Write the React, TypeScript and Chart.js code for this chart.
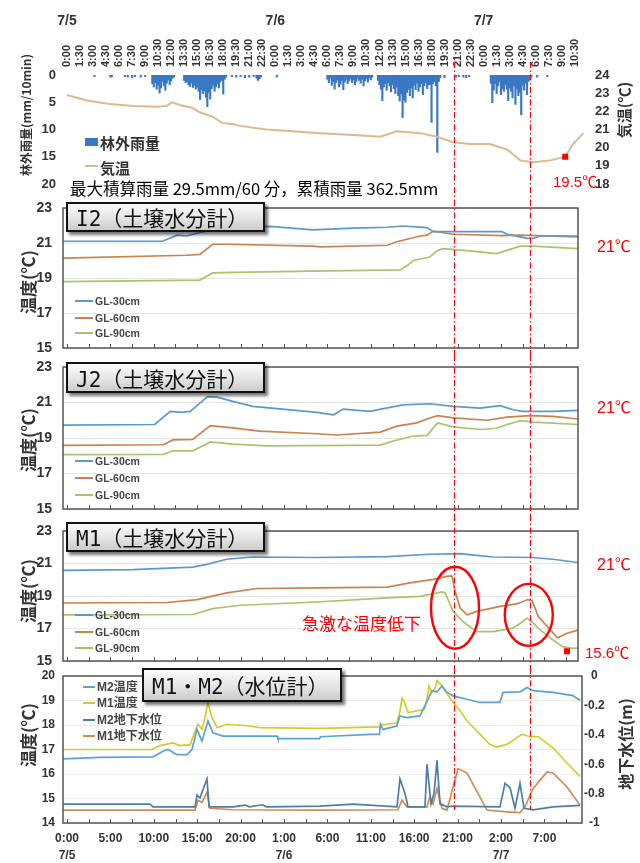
import React, { useEffect, useRef } from 'react';
import { Chart, registerables } from 'chart.js';

Chart.register(...registerables);

/* ---------------- data (x = hours counted from 7/5 0:00) ---------------- */

const DATE_LABELS = ['7/5', '7/6', '7/7'];

const TOP_TIME_LABELS = [
  '0:00', '1:30', '3:00', '4:30', '6:00', '7:30', '9:00', '10:30', '12:00', '13:30', '15:00', '16:30', '18:00', '19:30', '21:00', '22:30',
  '0:00', '1:30', '3:00', '4:30', '6:00', '7:30', '9:00', '10:30', '12:00', '13:30', '15:00', '16:30', '18:00', '19:30', '21:00', '22:30',
  '0:00', '1:30', '3:00', '4:30', '6:00', '7:30', '9:00', '10:30',
];

const BOTTOM_TIME_LABELS = ['0:00', '5:00', '10:00', '15:00', '20:00', '1:00', '6:00', '11:00', '16:00', '21:00', '2:00', '7:00'];

// 10-minute rainfall outside the forest (mm): [first hour of the spell, values...]
const RAIN_SPELLS: [number, number[]][] = [
  [9.83, [1.6, 2.2, 1.4, 2.6, 1.9, 3.3, 2.4, 1.2, 2.0, 2.8, 1.5, 0.9, 1.8, 1.1, 0.6, 0.4]],
  [13.5, [1.0, 1.4, 1.2, 1.8, 2.1, 1.5, 2.3, 1.9, 2.6, 2.2, 3.0, 4.5, 2.7, 3.4, 2.9, 4.1, 5.8, 3.2, 4.4, 2.5, 1.9, 3.0, 2.2, 1.6, 2.4, 1.3, 1.0, 3.5, 0.8, 0.4]],
  [30.0, [0.8, 1.4, 0.6, 1.9, 1.2, 2.6, 1.4, 0.9, 2.2, 1.7, 1.0, 2.7, 1.3, 0.8, 1.6, 1.1, 0.7, 1.4, 0.9, 1.8, 1.2, 0.6, 1.0, 1.5, 0.8, 2.0, 1.1, 0.7, 1.3, 0.5, 0.9, 0.4]],
  [35.83, [1.0, 1.8, 2.6, 4.7, 2.2, 1.6, 2.8, 1.4, 2.0, 3.1, 1.8, 2.5, 3.4, 2.2, 3.8, 4.8, 3.5, 7.8, 4.6, 5.0, 3.2, 2.6, 3.8, 2.4, 4.2, 1.9, 2.7, 1.5, 3.0, 2.2, 1.6, 3.6, 2.0, 1.4, 2.5, 1.8, 1.8, 8.7, 1.6, 1.2, 2.0, 14.2, 1.2, 0.5]],
  [48.83, [1.5, 5.1, 2.8, 1.6, 3.4, 2.0, 1.2, 3.6, 2.5, 3.0, 1.8, 2.6, 4.7, 2.4, 3.0, 4.2, 2.0, 5.4, 2.6, 3.8, 3.2, 7.3, 1.9, 2.8, 1.5, 3.6, 1.2, 0.8, 0.4]],
];

// isolated light showers: [hour, mm]
const RAIN_SCATTER: [number, number][] = [
  [3.17, 0.3], [5.0, 0.4], [5.17, 0.3], [6.67, 0.3], [7.0, 0.4], [7.5, 0.5], [7.83, 0.3], [8.5, 0.4], [9.0, 0.3],
  [19.0, 0.3], [19.5, 0.4], [20.0, 0.3], [20.5, 0.5], [21.0, 0.4], [21.5, 0.3], [21.83, 0.6], [22.0, 1.0], [22.17, 0.7], [22.33, 0.4],
  [24.17, 0.4], [43.5, 0.5], [44.83, 0.4], [45.17, 0.3], [45.67, 0.4], [46.0, 0.5], [46.33, 0.3], [54.17, 0.4], [55.33, 0.3],
];

// air temperature (°C)
const AIR_TEMP: [number, number][] = [
  [0, 22.9], [2.3, 22.6], [4.9, 22.4], [7.6, 22.3], [10.4, 22.25], [11.5, 22.3], [12.1, 22.5], [13.0, 22.35], [14.4, 22.2],
  [15.3, 21.95], [16.8, 21.7], [17.9, 21.35], [19.1, 21.3], [19.9, 21.2], [23.0, 21.0], [26.0, 20.9], [29.2, 20.8], [33.0, 20.7],
  [36.1, 20.6], [38.0, 20.9], [40.7, 20.8], [42.6, 20.6], [44.5, 20.3], [46.4, 20.2], [48.7, 20.2], [50.7, 19.9], [52.2, 19.3],
  [53.7, 19.2], [55.7, 19.3], [57.4, 19.5], [58.3, 20.2], [59.5, 20.8],
];
const AIR_TEMP_LOW: [number, number] = [57.4, 19.5];

const SOIL_DEPTHS = ['GL-30cm', 'GL-60cm', 'GL-90cm'];

// soil temperature, I2 (°C)
const I2_GL30: [number, number][] = [
  [-0.46, 21.1], [11.0, 21.1], [12.7, 21.45], [13.8, 21.4], [15.3, 21.6], [16.8, 21.75], [19.1, 21.9], [23.5, 21.95], [28.3, 21.75],
  [33.0, 21.85], [36.9, 21.9], [38.7, 21.97], [41.5, 21.88], [42.2, 21.65], [44.5, 21.65], [50.1, 21.65], [50.7, 21.5], [52.2, 21.35],
  [53.0, 21.26], [53.7, 21.26], [54.5, 21.4], [58.9, 21.4],
];
const I2_GL60: [number, number][] = [
  [-0.46, 20.14], [13.8, 20.3], [15.3, 20.35], [16.8, 20.93], [18.4, 20.93], [28.3, 20.82], [29.2, 20.78], [36.9, 20.87], [38.0, 21.07],
  [40.7, 21.4], [41.5, 21.45], [42.2, 21.68], [44.5, 21.5], [50.1, 21.42], [52.2, 21.45], [58.9, 21.35],
];
const I2_GL90: [number, number][] = [
  [-0.46, 18.79], [15.3, 18.88], [16.8, 19.29], [19.1, 19.32], [28.3, 19.39], [38.4, 19.46], [39.2, 19.71], [39.9, 20.0], [41.8, 20.2],
  [42.6, 20.55], [43.3, 20.68], [46.4, 20.55], [49.5, 20.39], [50.7, 20.58], [52.2, 20.82], [53.7, 20.82], [58.9, 20.68],
];

// soil temperature, J2 (°C)
const J2_GL30: [number, number][] = [
  [-0.46, 19.72], [10.1, 19.76], [11.9, 20.5], [13.2, 20.44], [14.2, 20.5], [15.3, 20.96], [16.2, 21.33], [17.3, 21.3], [19.1, 21.06],
  [21.4, 20.78], [24.2, 20.65], [28.8, 20.44], [30.7, 20.31], [31.8, 20.63], [34.9, 20.5], [36.9, 20.7], [38.7, 20.87], [41.8, 20.93],
  [44.5, 20.78], [47.6, 20.68], [49.9, 20.82], [51.4, 20.59], [52.5, 20.5], [56.0, 20.5], [58.9, 20.56],
];
const J2_GL60: [number, number][] = [
  [-0.46, 18.59], [11.1, 18.62], [12.2, 18.89], [14.5, 18.92], [16.5, 19.7], [19.1, 19.57], [22.2, 19.39], [28.8, 19.24], [31.1, 19.17],
  [36.1, 19.33], [38.0, 19.67], [40.3, 19.85], [41.8, 20.13], [42.7, 20.26], [44.5, 20.13], [48.4, 20.0], [50.7, 20.18], [53.3, 20.26],
  [56.0, 20.22], [58.9, 20.07],
];
const J2_GL90: [number, number][] = [
  [-0.46, 18.06], [11.1, 18.08], [12.2, 18.28], [14.5, 18.28], [16.5, 18.78], [19.1, 18.65], [23.0, 18.56], [36.1, 18.6], [37.6, 18.83],
  [39.9, 19.11], [41.5, 19.15], [42.2, 19.57], [42.7, 19.85], [44.5, 19.63], [47.6, 19.48], [49.5, 19.55], [50.7, 19.76], [52.2, 19.98],
  [53.7, 19.89], [58.9, 19.76],
];

// soil temperature, M1 (°C)
const M1_GL30: [number, number][] = [
  [-0.46, 20.58], [7.6, 20.62], [14.5, 20.78], [16.1, 20.95], [18.4, 21.26], [21.4, 21.4], [28.8, 21.37], [36.9, 21.42], [41.8, 21.57],
  [45.3, 21.61], [47.2, 21.5], [49.1, 21.4], [53.6, 21.37], [56.0, 21.26], [58.9, 21.06],
];
const M1_GL60: [number, number][] = [
  [-0.46, 18.57], [11.5, 18.6], [15.0, 18.78], [18.4, 19.19], [21.9, 19.46], [28.8, 19.5], [36.9, 19.55], [39.5, 19.81], [42.2, 20.02],
  [43.9, 20.22], [44.35, 20.22], [44.7, 19.29], [45.3, 18.26], [46.1, 17.84], [47.2, 18.05], [49.9, 18.36], [51.8, 18.51], [53.1, 18.78],
  [53.6, 18.7], [54.3, 17.74], [55.7, 16.91], [56.5, 16.43], [57.6, 16.71], [58.9, 16.91],
];
const M1_GL90: [number, number][] = [
  [-0.46, 17.84], [14.5, 17.86], [16.8, 18.22], [19.9, 18.43], [28.8, 18.63], [36.9, 18.88], [40.7, 18.98], [43.2, 19.25], [43.55, 19.2],
  [44.5, 18.05], [45.6, 17.43], [47.2, 16.81], [49.1, 16.81], [51.4, 17.02], [52.5, 17.43], [53.0, 17.64], [53.6, 17.4], [54.5, 16.91],
  [56.0, 16.29], [57.1, 15.88], [58.3, 15.78], [58.9, 15.8],
];
const M1_TEMP_LOW: [number, number] = [57.6, 15.6];
// centres of the two sharp drops circled on the M1 panel: [hour, °C]
const M1_SHARP_DROPS: [number, number][] = [[44.7, 18.28], [53.2, 17.84]];

const WELL_LABELS = ['M2温度', 'M1温度', 'M2地下水位', 'M1地下水位'];

// water temperature in the wells (°C)
const M2_WATER_TEMP: [number, number][] = [
  [-0.46, 16.62], [3.8, 16.68], [9.9, 16.7], [11.06, 16.93], [11.64, 17.0], [12.67, 16.79], [13.82, 16.79], [14.4, 17.0], [14.98, 17.82],
  [15.55, 17.34], [16.24, 18.16], [16.82, 17.68], [17.97, 17.55], [24.2, 17.55], [24.3, 17.44], [29.1, 17.44], [29.2, 17.52],
  [34.9, 17.62], [36.0, 17.62], [36.1, 18.03], [36.4, 17.82], [38.0, 17.96], [38.36, 18.37], [39.17, 18.3], [40.67, 18.37],
  [41.59, 19.05], [42.05, 19.4], [42.63, 19.35], [43.2, 19.6], [43.78, 19.33], [44.47, 19.19], [46.08, 19.05], [47.58, 18.92],
  [49.88, 18.92], [50.23, 19.33], [52.19, 19.35], [52.99, 19.53], [53.69, 19.4], [55.99, 19.33], [58.29, 19.2], [59.1, 19.0],
];
const M1_WATER_TEMP: [number, number][] = [
  [-0.46, 17.0], [9.8, 17.0], [10.7, 17.16], [12.2, 17.27], [13.0, 17.16], [14.2, 17.2], [14.75, 17.75], [15.1, 18.03], [15.55, 17.82],
  [15.9, 18.3], [16.24, 18.92], [16.7, 18.3], [17.3, 17.89], [18.4, 18.03], [21.1, 17.96], [22.2, 17.89], [29.2, 17.86], [36.1, 17.92],
  [36.3, 18.01], [38.0, 18.08], [38.36, 18.56], [38.6, 19.1], [38.9, 18.9], [39.3, 18.51], [41.2, 18.64], [41.5, 19.1], [41.7, 19.6],
  [42.05, 19.33], [42.4, 19.5], [42.63, 19.81], [42.97, 19.7], [43.8, 19.26], [44.5, 18.92], [45.3, 18.57], [46.1, 18.16], [47.6, 17.62],
  [48.7, 17.21], [49.5, 17.1], [50.7, 17.21], [52.2, 17.57], [52.5, 17.62], [53.3, 17.52], [54.3, 17.52], [56.0, 17.07], [57.6, 16.45],
  [59.1, 15.9],
];

// groundwater level (m)
const M2_WATER_LEVEL: [number, number][] = [
  [-0.46, -0.872], [9.56, -0.872], [9.91, -0.89], [14.75, -0.89], [14.98, -0.81], [15.32, -0.83], [15.78, -0.755], [16.13, -0.7],
  [16.36, -0.89], [19.12, -0.89], [20.5, -0.878], [21.0, -0.89], [22.5, -0.876], [23.0, -0.89], [29.15, -0.885], [32.95, -0.872],
  [38.02, -0.89], [38.36, -0.7], [38.94, -0.8], [39.29, -0.89], [41.24, -0.89], [41.47, -0.6], [41.94, -0.87], [42.28, -0.8],
  [42.63, -0.574], [42.97, -0.87], [43.78, -0.89], [44.47, -0.885], [49.88, -0.89], [50.46, -0.73], [51.04, -0.76], [51.61, -0.9],
  [52.19, -0.73], [52.65, -0.9], [53.69, -0.91], [55.99, -0.89], [59.1, -0.88],
];
const M1_WATER_LEVEL: [number, number][] = [
  [-0.46, -0.912], [14.75, -0.912], [15.09, -0.845], [15.55, -0.86], [16.13, -0.79], [16.47, -0.9], [19.12, -0.91], [29.15, -0.912],
  [38.13, -0.91], [38.59, -0.845], [39.17, -0.89], [41.47, -0.89], [41.82, -0.822], [42.17, -0.87], [42.63, -0.766], [43.2, -0.9],
  [43.78, -0.912], [45.05, -0.63], [46.08, -0.66], [48.39, -0.912], [50.69, -0.924], [52.19, -0.93], [52.76, -0.89], [53.69, -0.766],
  [55.3, -0.653], [55.99, -0.66], [57.6, -0.755], [59.1, -0.878],
];

// moments of the sharp soil-temperature drops (hours)
const EVENT_HOURS = [44.6, 53.35];

/* ---------------- styles & geometry ---------------- */

const SOIL_COLORS = ['#5e98c9', '#c9824f', '#a7c46a'];
const WELL_COLORS = ['#5aa2d6', '#d6ca2e', '#4d7ea8', '#d08a57'];
const RAIN_COLOR = '#3a78c3';
const AIR_COLOR = '#dcb88f';
const RED = '#ff0000';
const AXIS_TEXT = '#333';
const LATIN_FONT = '"Liberation Sans", Arial, sans-serif';
const CJK_FONT = '"Noto Sans CJK JP", "Noto Sans", sans-serif';
const BOX_FONT = '"DejaVu Sans Mono", "Noto Sans CJK JP", monospace';

const HOUR0_X = 67;
const PX_PER_HOUR = 8.68;
const PLOT_LEFT = 63;
const SOIL_PLOT_RIGHT = 578;
const WELL_PLOT_RIGHT = 582;
const TOP_PLOT_RIGHT = 585;
const hourAt = (px: number) => (px - HOUR0_X) / PX_PER_HOUR;
const X_MIN = hourAt(PLOT_LEFT);
const MINOR_TICK_HOURS = Array.from({ length: 24 }, (_, i) => i * 2.5);
const TOP_TICK_HOURS = TOP_TIME_LABELS.map((_, i) => i * 1.5);

const xy = (pts: [number, number][]) => pts.map(([x, y]) => ({ x, y }));

const rainPoints = () => {
  const pts: { x: number; y: number }[] = [];
  RAIN_SPELLS.forEach(([start, vals]) => vals.forEach((v, i) => pts.push({ x: start + i / 6, y: v })));
  RAIN_SCATTER.forEach(([h, v]) => pts.push({ x: h, y: v }));
  return pts.sort((a, b) => a.x - b.x);
};

// fixed-width value axis whose edge labels may overhang the plot area
const fixedYAxis = (width: number) => (s: any) => {
  s.width = width;
  s.paddingTop = 0;
  s.paddingBottom = 0;
};

/* ---------------- chart plugins ---------------- */

// red dash-dot verticals at the two drop moments, spanning [y0, y1] of the canvas
function eventLines(y0: number, y1: number) {
  return {
    id: 'eventLines',
    afterDraw(chart: any) {
      const { ctx } = chart;
      const xs = chart.scales.x;
      ctx.save();
      ctx.strokeStyle = RED;
      ctx.lineWidth = 1.2;
      ctx.setLineDash([6, 2.5, 1.5, 2.5]);
      EVENT_HOURS.forEach((h) => {
        const x = Math.round(xs.getPixelForValue(h)) + 0.5;
        ctx.beginPath();
        ctx.moveTo(x, y0);
        ctx.lineTo(x, y1);
        ctx.stroke();
      });
      ctx.restore();
    },
  };
}

const framePlugin = {
  id: 'frame',
  afterDatasetsDraw(chart: any) {
    const { ctx, chartArea: a } = chart;
    const xs = chart.scales.x;
    ctx.save();
    ctx.strokeStyle = '#555';
    ctx.lineWidth = 1.5;
    ctx.strokeRect(a.left, a.top, a.right - a.left, a.bottom - a.top);
    ctx.lineWidth = 1;
    xs.ticks.forEach((t: any) => {
      const x = Math.round(xs.getPixelForValue(t.value)) + 0.5;
      ctx.beginPath();
      ctx.moveTo(x, a.bottom);
      ctx.lineTo(x, a.bottom - 4);
      ctx.stroke();
    });
    ctx.restore();
  },
};

// vertical time labels and the date row above the rainfall panel
const topLabelsPlugin = {
  id: 'topLabels',
  afterDraw(chart: any) {
    const { ctx } = chart;
    const xs = chart.scales.x;
    ctx.save();
    ctx.fillStyle = AXIS_TEXT;
    ctx.font = `bold 11px ${LATIN_FONT}`;
    ctx.textAlign = 'left';
    ctx.textBaseline = 'middle';
    xs.ticks.forEach((t: any) => {
      const label = TOP_TIME_LABELS[Math.round(t.value / 1.5)];
      if (!label) return;
      ctx.save();
      ctx.translate(xs.getPixelForValue(t.value), 67);
      ctx.rotate(-Math.PI / 2);
      ctx.fillText(label, 0, 0);
      ctx.restore();
    });
    ctx.font = `bold 14px ${LATIN_FONT}`;
    ctx.textAlign = 'center';
    DATE_LABELS.forEach((d, i) => ctx.fillText(d, xs.getPixelForValue(i * 24), 21));
    ctx.restore();
  },
};

const airLowPlugin = {
  id: 'airLow',
  afterDatasetsDraw(chart: any) {
    const { ctx } = chart;
    const x = chart.scales.x.getPixelForValue(AIR_TEMP_LOW[0]);
    const y = chart.scales.yTemp.getPixelForValue(AIR_TEMP_LOW[1]);
    ctx.save();
    ctx.fillStyle = RED;
    ctx.fillRect(x - 3, y - 3, 6, 6);
    ctx.restore();
  },
};

const DROP_RX = [24, 24];
const DROP_RY = [41, 31];
const m1MarksPlugin = {
  id: 'm1Marks',
  afterDatasetsDraw(chart: any) {
    const { ctx } = chart;
    const xs = chart.scales.x;
    const ys = chart.scales.y;
    ctx.save();
    ctx.strokeStyle = RED;
    ctx.lineWidth = 2.4;
    M1_SHARP_DROPS.forEach(([h, t], i) => {
      ctx.beginPath();
      ctx.ellipse(xs.getPixelForValue(h), ys.getPixelForValue(t), DROP_RX[i], DROP_RY[i], 0, 0, Math.PI * 2);
      ctx.stroke();
    });
    ctx.fillStyle = RED;
    ctx.fillRect(xs.getPixelForValue(M1_TEMP_LOW[0]) - 3, ys.getPixelForValue(M1_TEMP_LOW[1]) - 3, 6, 6);
    ctx.restore();
  },
};

/* ---------------- chart configurations ---------------- */

const baseOptions = {
  responsive: false,
  animation: false,
  events: [],
};
const noLegend = { legend: { display: false }, tooltip: { enabled: false } };

function rainConfig() {
  const H = 200;
  return {
    type: 'bar',
    data: {
      datasets: [
        {
          type: 'line', label: '気温', data: xy(AIR_TEMP), yAxisID: 'yTemp',
          borderColor: AIR_COLOR, borderWidth: 2, pointRadius: 0, tension: 0, order: 1,
        },
        {
          type: 'bar', label: '林外雨量', data: rainPoints(), yAxisID: 'yRain',
          backgroundColor: RAIN_COLOR, barThickness: 1.5, order: 2,
        },
      ],
    },
    options: {
      ...baseOptions,
      layout: { autoPadding: false, padding: { top: 0, right: 0, bottom: H - 184, left: 0 } },
      plugins: noLegend,
      scales: {
        x: {
          type: 'linear', position: 'top', min: X_MIN, max: hourAt(TOP_PLOT_RIGHT), offset: false,
          grid: { display: false, drawTicks: false }, border: { display: false },
          afterBuildTicks: (s: any) => { s.ticks = TOP_TICK_HOURS.map((v) => ({ value: v })); },
          afterFit: (s: any) => { s.height = 75; },
          ticks: { display: false },
        },
        yRain: {
          type: 'linear', position: 'left', reverse: true, min: 0, max: 20,
          grid: { display: false, drawTicks: false }, border: { display: false },
          afterFit: fixedYAxis(PLOT_LEFT),
          ticks: { stepSize: 5, autoSkip: false, padding: 7, color: AXIS_TEXT, font: { family: LATIN_FONT, weight: 'bold', size: 13 } },
        },
        yTemp: {
          type: 'linear', position: 'right', min: 18, max: 24,
          grid: { display: false, drawTicks: false }, border: { display: false },
          afterFit: fixedYAxis(640 - TOP_PLOT_RIGHT),
          ticks: { stepSize: 1, autoSkip: false, padding: 10, color: AXIS_TEXT, font: { family: LATIN_FONT, weight: 'bold', size: 13 } },
        },
      },
    },
    plugins: [topLabelsPlugin, airLowPlugin, eventLines(62, H)],
  };
}

function soilConfig(series: [number, number][][], H: number, plotTop: number, plotBottom: number, extra: any[] = []) {
  return {
    type: 'line',
    data: {
      datasets: series.map((pts, i) => ({
        label: SOIL_DEPTHS[i], data: xy(pts), borderColor: SOIL_COLORS[i],
        borderWidth: 1.7, pointRadius: 0, tension: 0, fill: false,
      })),
    },
    options: {
      ...baseOptions,
      layout: { autoPadding: false, padding: { top: plotTop, right: 640 - SOIL_PLOT_RIGHT, bottom: 0, left: 0 } },
      plugins: noLegend,
      scales: {
        x: {
          type: 'linear', min: X_MIN, max: hourAt(SOIL_PLOT_RIGHT),
          ticks: { display: false }, grid: { display: false, drawTicks: false }, border: { display: false },
          afterBuildTicks: (s: any) => { s.ticks = MINOR_TICK_HOURS.map((v) => ({ value: v })); },
          afterFit: (s: any) => { s.height = H - plotBottom; },
        },
        y: {
          type: 'linear', min: 15, max: 23,
          grid: { color: '#e6e6e6', drawTicks: false }, border: { display: false },
          afterFit: fixedYAxis(PLOT_LEFT),
          ticks: { stepSize: 2, autoSkip: false, padding: 11, color: AXIS_TEXT, font: { family: LATIN_FONT, weight: 'bold', size: 14 } },
        },
      },
    },
    plugins: [framePlugin, ...extra, eventLines(0, H)],
  };
}

function wellConfig() {
  const H = 195;
  const plotTop = 8;
  const plotBottom = 155;
  const series = [M2_WATER_TEMP, M1_WATER_TEMP, M2_WATER_LEVEL, M1_WATER_LEVEL];
  return {
    type: 'line',
    data: {
      datasets: series.map((pts, i) => ({
        label: WELL_LABELS[i], data: xy(pts), yAxisID: i < 2 ? 'yT' : 'yW',
        borderColor: WELL_COLORS[i], borderWidth: 1.7, pointRadius: 0, tension: 0, fill: false,
      })),
    },
    options: {
      ...baseOptions,
      layout: { autoPadding: false, padding: { top: plotTop, right: 0, bottom: 0, left: 0 } },
      plugins: noLegend,
      scales: {
        x: {
          type: 'linear', min: X_MIN, max: hourAt(WELL_PLOT_RIGHT),
          grid: { display: false, drawTicks: false }, border: { display: false },
          afterBuildTicks: (s: any) => { s.ticks = MINOR_TICK_HOURS.map((v) => ({ value: v })); },
          afterFit: (s: any) => { s.height = H - plotBottom; },
          ticks: {
            autoSkip: false, minRotation: 0, maxRotation: 0, padding: 7, color: AXIS_TEXT,
            font: { family: LATIN_FONT, weight: 'bold', size: 12, lineHeight: 1.4 },
            callback: (v: number) => {
              const k = v / 5;
              if (Math.abs(k - Math.round(k)) > 1e-6) return '';
              const label = BOTTOM_TIME_LABELS[Math.round(k)] ?? '';
              const day = Math.floor(v / 24);
              return v - 5 < day * 24 ? [label, DATE_LABELS[day]] : label;
            },
          },
        },
        yT: {
          type: 'linear', position: 'left', min: 14, max: 20,
          grid: { color: '#eeeeee', drawTicks: false }, border: { display: false },
          afterFit: fixedYAxis(PLOT_LEFT),
          ticks: { stepSize: 1, autoSkip: false, padding: 8, color: AXIS_TEXT, font: { family: LATIN_FONT, weight: 'bold', size: 12 } },
        },
        yW: {
          type: 'linear', position: 'right', min: -1, max: 0,
          grid: { display: false, drawTicks: false }, border: { display: false },
          afterFit: fixedYAxis(640 - WELL_PLOT_RIGHT),
          ticks: {
            stepSize: 0.2, autoSkip: false, padding: 2, crossAlign: 'center', color: AXIS_TEXT,
            font: { family: LATIN_FONT, weight: 'bold', size: 12 },
            callback: (v: number) => (Math.abs(v) < 1e-9 ? '0' : String(Number(v.toFixed(1)))),
          },
        },
      },
    },
    plugins: [framePlugin, eventLines(0, 142)],
  };
}

/* ---------------- components ---------------- */

function ChartCanvas({ top, height, config }: { top: number; height: number; config: () => any }) {
  const ref = useRef<HTMLCanvasElement>(null);
  useEffect(() => {
    const chart = new Chart(ref.current as HTMLCanvasElement, config());
    return () => chart.destroy();
  }, []);
  return (
    <canvas
      ref={ref}
      width={640}
      height={height}
      style={{ position: 'absolute', left: 0, top, width: 640, height, display: 'block' }}
    />
  );
}

function Txt({ x, y, style, children }: { x: number; y: number; style?: React.CSSProperties; children: React.ReactNode }) {
  return (
    <div style={{ position: 'absolute', left: x, top: y, transform: 'translateY(-50%)', whiteSpace: 'nowrap', lineHeight: 1, ...style }}>
      {children}
    </div>
  );
}

function VTxt({ cx, cy, style, children }: { cx: number; cy: number; style?: React.CSSProperties; children: React.ReactNode }) {
  return (
    <div
      style={{
        position: 'absolute', left: cx, top: cy, transform: 'translate(-50%, -50%) rotate(-90deg)',
        whiteSpace: 'nowrap', lineHeight: 1, ...style,
      }}
    >
      {children}
    </div>
  );
}

function TitleBox({ x, y, w, h, text }: { x: number; y: number; w: number; h: number; text: string }) {
  return (
    <div
      style={{
        position: 'absolute', left: x, top: y, width: w, height: h, boxSizing: 'border-box',
        border: '2px solid #111', boxShadow: '3px 3px 3px rgba(0,0,0,0.55)',
        background: 'linear-gradient(180deg, #fbfbfb 0%, #e4e4e4 55%, #cbcbcb 100%)',
        display: 'flex', alignItems: 'center', paddingLeft: 8,
        fontFamily: BOX_FONT, fontSize: 21, color: '#111', whiteSpace: 'nowrap',
      }}
    >
      {text}
    </div>
  );
}

function LegendRows({ x, ys, labels, colors, lineW, size }: { x: number; ys: number[]; labels: string[]; colors: string[]; lineW: number; size: number }) {
  return (
    <>
      {labels.map((label, i) => (
        <React.Fragment key={label}>
          <div style={{ position: 'absolute', left: x, top: ys[i] - 1, width: lineW, height: 2, background: colors[i] }} />
          <Txt x={x + lineW + 2} y={ys[i]} style={{ fontFamily: `"Liberation Sans", ${CJK_FONT}`, fontWeight: 'bold', fontSize: size, color: '#444' }}>
            {label}
          </Txt>
        </React.Fragment>
      ))}
    </>
  );
}

const yTitleStyle: React.CSSProperties = { fontFamily: CJK_FONT, fontWeight: 'bold', color: '#333' };
const redStyle: React.CSSProperties = { fontFamily: `"Liberation Sans", ${CJK_FONT}`, color: RED };

export default function App() {
  useEffect(() => {
    document.body.style.margin = '0';
  }, []);

  return (
    <div style={{ position: 'absolute', left: 0, top: 0, width: 640, height: 863, background: '#fff', overflow: 'hidden' }}>
      <ChartCanvas top={0} height={200} config={rainConfig} />
      <ChartCanvas top={200} height={155} config={() => soilConfig([I2_GL30, I2_GL60, I2_GL90], 155, 8, 148)} />
      <ChartCanvas top={355} height={160} config={() => soilConfig([J2_GL30, J2_GL60, J2_GL90], 160, 12, 154)} />
      <ChartCanvas top={515} height={153} config={() => soilConfig([M1_GL30, M1_GL60, M1_GL90], 153, 16, 146, [m1MarksPlugin])} />
      <ChartCanvas top={668} height={195} config={wellConfig} />

      {/* rainfall & air temperature */}
      <VTxt cx={26} cy={115} style={{ ...yTitleStyle, fontSize: 12 }}>林外雨量(mm/10min)</VTxt>
      <VTxt cx={623} cy={110} style={{ ...yTitleStyle, fontSize: 15 }}>気温(℃)</VTxt>
      <div style={{ position: 'absolute', left: 85, top: 138, width: 13, height: 8, background: RAIN_COLOR }} />
      <Txt x={100} y={142} style={{ ...yTitleStyle, fontSize: 15 }}>林外雨量</Txt>
      <div style={{ position: 'absolute', left: 85, top: 165, width: 13, height: 2, background: AIR_COLOR }} />
      <Txt x={100} y={167} style={{ ...yTitleStyle, fontSize: 15 }}>気温</Txt>
      <Txt x={70} y={188} style={{ fontFamily: CJK_FONT, fontSize: 16.5, color: '#000' }}>
        最大積算雨量 29.5mm/60 分，累積雨量 362.5mm
      </Txt>
      <Txt x={553} y={181} style={{ ...redStyle, fontSize: 15 }}>{`${AIR_TEMP_LOW[1]}℃`}</Txt>

      {/* I2 */}
      <TitleBox x={66} y={202} w={199} h={30} text="I2（土壌水分計）" />
      <VTxt cx={27} cy={282} style={{ ...yTitleStyle, fontSize: 17 }}>温度(℃)</VTxt>
      <LegendRows x={75} ys={[301, 318, 333]} labels={SOIL_DEPTHS} colors={SOIL_COLORS} lineW={18} size={10.5} />
      <Txt x={597} y={247} style={{ ...redStyle, fontSize: 16 }}>21℃</Txt>

      {/* J2 */}
      <TitleBox x={66} y={362} w={199} h={31} text="J2（土壌水分計）" />
      <VTxt cx={27} cy={440} style={{ ...yTitleStyle, fontSize: 17 }}>温度(℃)</VTxt>
      <LegendRows x={75} ys={[461, 478, 495]} labels={SOIL_DEPTHS} colors={SOIL_COLORS} lineW={18} size={10.5} />
      <Txt x={597} y={408} style={{ ...redStyle, fontSize: 16 }}>21℃</Txt>

      {/* M1 */}
      <TitleBox x={66} y={522} w={199} h={30} text="M1（土壌水分計）" />
      <VTxt cx={27} cy={591} style={{ ...yTitleStyle, fontSize: 17 }}>温度(℃)</VTxt>
      <LegendRows x={75} ys={[615, 632, 648]} labels={SOIL_DEPTHS} colors={SOIL_COLORS} lineW={18} size={10.5} />
      <Txt x={597} y={565} style={{ ...redStyle, fontSize: 16 }}>21℃</Txt>
      <Txt x={302} y={622} style={{ fontFamily: CJK_FONT, color: RED, fontSize: 17 }}>急激な温度低下</Txt>
      <Txt x={585} y={652} style={{ ...redStyle, fontSize: 15 }}>{`${M1_TEMP_LOW[1]}℃`}</Txt>

      {/* M1・M2 wells */}
      <TitleBox x={142} y={668} w={200} h={34} text="M1・M2（水位計）" />
      <VTxt cx={27} cy={735} style={{ ...yTitleStyle, fontSize: 17 }}>温度(℃)</VTxt>
      <VTxt cx={625} cy={744} style={{ ...yTitleStyle, fontSize: 16 }}>地下水位(m)</VTxt>
      <LegendRows x={83} ys={[687, 703, 720, 736]} labels={WELL_LABELS} colors={WELL_COLORS} lineW={12} size={12} />
    </div>
  );
}
